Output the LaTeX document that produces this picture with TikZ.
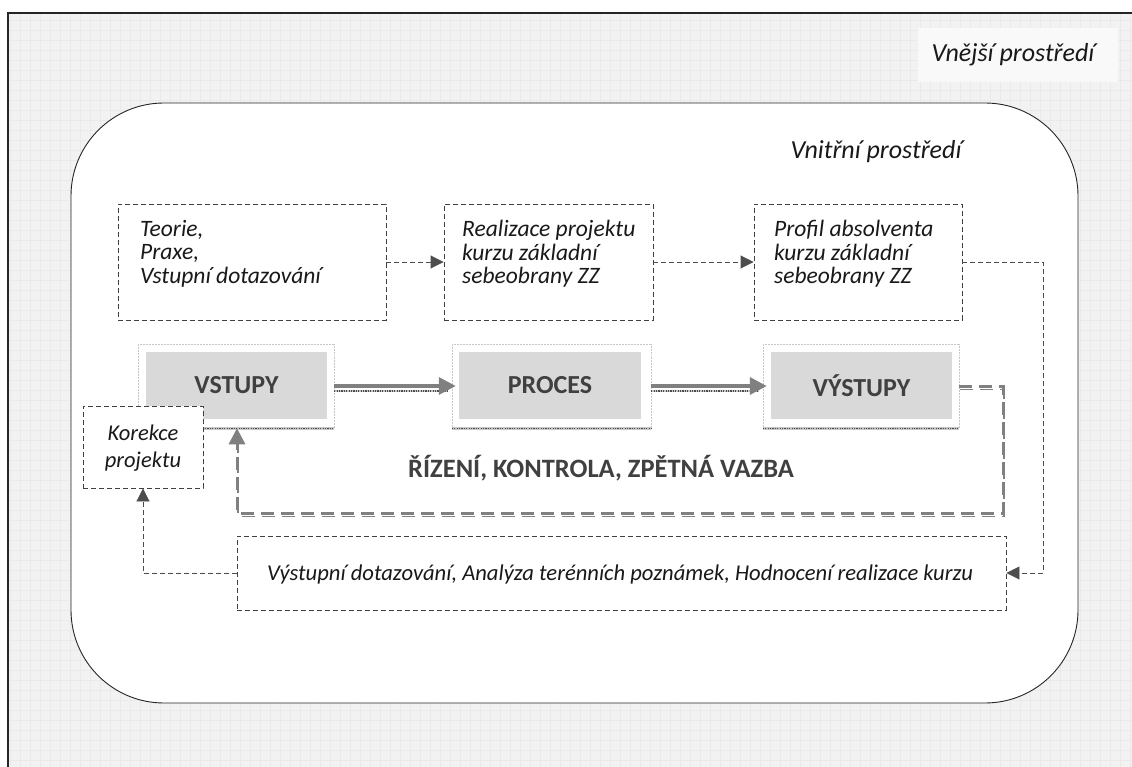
\documentclass[tikz,border=0pt]{standalone}
\usepackage{fontspec}
\setmainfont{Carlito}
\usetikzlibrary{arrows.meta}
\definecolor{dk}{HTML}{404040}
\definecolor{cn}{HTML}{4D4D4D}
\definecolor{gboxc}{HTML}{D9D9D9}
\definecolor{garrow}{HTML}{808080}
\definecolor{bgc}{HTML}{F2F2F2}
\definecolor{gridc}{HTML}{EAEAEA}
\tikzset{
  itext/.style={font=\fontsize{23.5}{23.5}\selectfont\itshape, text=black!90, inner sep=0pt, align=left},
  btext/.style={font=\fontsize{26}{30}\selectfont\itshape, text=black!90, inner sep=0pt},
  dbox/.style={draw=black!75, line width=0.9pt, dash pattern=on 5pt off 3pt, fill=white},
  conn/.style={draw=cn, line width=0.9pt, dash pattern=on 5pt off 3pt, -{Triangle[length=13pt,width=13pt]}, color=cn},
  framebox/.style={draw=gray!45, line width=0.5pt, densely dotted, inner sep=0pt},
  graybox/.style={fill=gboxc, inner sep=0pt, font=\fontsize{26}{30}\selectfont\bfseries, text=dk},
  heavy/.style={draw=garrow, line width=3.5pt, -{Triangle[length=17pt,width=17pt]}, color=garrow},
  hatch/.style={draw=gray!45, line width=2.6pt, postaction={draw=black!70, line width=1.3pt, dash pattern=on 1.2pt off 1.2pt}},
  loopline/.style={draw=garrow, line width=3pt, dash pattern=on 13pt off 7pt, -{Triangle[length=16pt,width=16pt]}, color=garrow},
  loopshadow/.style={draw=black!50, line width=1.3pt, dash pattern=on 13pt off 7pt, transform canvas={xshift=1pt,yshift=-3.5pt}},
}
\begin{document}
\begin{tikzpicture}[x=1pt,y=-1pt]
\useasboundingbox (0,0) rectangle (1132,767);
\clip (0,0) rectangle (1132,767);
% outer environment
\fill[bgc] (8,13) rectangle (1140,780);
\draw[gridc, line width=0.3pt, step=10pt] (8,13) grid (1140,780);
\fill[white!50!bgc] (918,28) rectangle (1118,82);
\draw[black!85, line width=1.4pt] (8,780) -- (8,13) -- (1140,13);
\node[btext] (ext) at (1013,55) {Vnější prostředí};
% inner environment
\node[draw=black!85, line width=0.9pt, fill=white, rounded corners=93pt,
      minimum width=1007pt, minimum height=600pt, inner sep=0pt] (inner) at (574.5,403) {};
\node[btext] (intl) at (876,152) {Vnitřní prostředí};
% top dashed boxes
\node[dbox, minimum width=268pt, minimum height=116pt] (b1) at (252,262) {};
\node[dbox, minimum width=209pt, minimum height=116pt] (b2) at (548.5,262) {};
\node[dbox, minimum width=208pt, minimum height=116pt] (b3) at (858,262) {};
\node[itext, anchor=north west] (t1) at (140,220) {Teorie,\\Praxe,\\Vstupní dotazování};
\node[itext, anchor=north west] (t2) at (462,220) {Realizace projektu\\kurzu základní\\sebeobrany ZZ};
\node[itext, anchor=north west] (t3) at (774,220) {Profil absolventa\\kurzu základní\\sebeobrany ZZ};
% frames and gray boxes
\node[framebox, minimum width=196pt, minimum height=84pt] (vsf) at (236,386) {};
\node[framebox, minimum width=199pt, minimum height=84pt] (prf) at (551.5,386) {};
\node[framebox, minimum width=196pt, minimum height=84pt] (vyf) at (861,386) {};
\draw[hatch] (vsf.south west) -- (vsf.south east);
\draw[hatch] (prf.south west) -- (prf.south east);
\draw[hatch] (vyf.south west) -- (vyf.south east);
\node[graybox, minimum width=181pt, minimum height=67pt] (vs) at (236.5,385.5) {VSTUPY};
\node[graybox, minimum width=182pt, minimum height=67pt] (pr) at (550,385.5) {PROCES};
\node[graybox, minimum width=181pt, minimum height=67pt] (vy) at (861.5,385.5) {VÝSTUPY};
% heavy arrows
\draw[hatch] ([yshift=-5pt]vsf.east) -- ([yshift=-5pt,xshift=-4pt]prf.west);
\draw[heavy] (vsf.east) -- ([xshift=4pt]prf.west);
\draw[hatch] ([yshift=-5pt]prf.east) -- ([yshift=-5pt,xshift=-4pt]vyf.west);
\draw[heavy] (prf.east) -- ([xshift=4pt]vyf.west);
% feedback loop
\coordinate (l1) at (1003,386);
\coordinate (l2) at (1003,513);
\coordinate (l3) at (237,513);
\coordinate (l4) at (237,446);
\draw[loopshadow] (vyf.east) -- (l1) -- (l2) -- (l3) -- (l4);
\draw[loopline] (vyf.east) -- (l1) -- (l2) -- (l3) -- (l3 |- vsf.south);
\node[font=\fontsize{26.5}{30}\selectfont\bfseries, text=dk] (rk) at (601,468) {ŘÍZENÍ, KONTROLA, ZPĚTNÁ VAZBA};
% Korekce box
\node[dbox, minimum width=120pt, minimum height=82pt] (kb) at (143,447) {};
\node[itext, align=center, font=\fontsize{22.5}{27}\selectfont\itshape] (kt) at (143,448) {Korekce\\projektu};
% bottom box
\node[dbox, minimum width=769pt, minimum height=74pt] (vb) at (621.5,573) {};
\node[itext, font=\fontsize{22.6}{26}\selectfont\itshape] (vt) at (620,574) {Výstupní dotazování, Analýza terénních poznámek, Hodnocení realizace kurzu};
% dashed connectors
\coordinate (r1) at (1043,262);
\coordinate (r2) at (1043,573);
\coordinate (k1) at (143,573);
\draw[conn] (b1.east) -- (b2.west);
\draw[conn] (b2.east) -- (b3.west);
\draw[conn] (b3.east) -- (r1) -- (r2) -- (vb.east);
\draw[conn] (vb.west) -- (k1) -- (kb.south);
\end{tikzpicture}
\end{document}
